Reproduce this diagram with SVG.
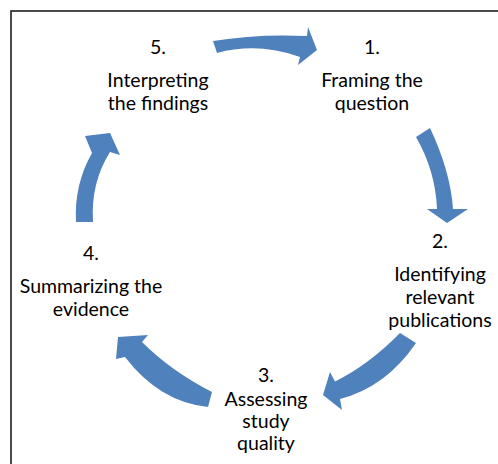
<svg xmlns="http://www.w3.org/2000/svg" width="498" height="464" viewBox="0 0 498 464">
  <style>
    .frame { fill: #ffffff; stroke: #1e1e1e; stroke-width: 1.6; }
    .arrow { fill: #4f81bd; stroke: none; }
    .label { font-family: Lato, "Open Sans", "Liberation Sans", sans-serif; font-size: 19.5px; fill: #000000; text-anchor: middle; }
  </style>
  <rect width="498" height="464" fill="#ffffff"/>
  <rect class="frame" x="11" y="11" width="520" height="480"/>

  <g id="connectors">
    <!-- 5 to 1 -->
    <path class="arrow" d="M213,41 Q258,33.5 307,36 L308,27 L317,50 L298,65 L300,57 Q258,42 217,53 Z"/>
    <!-- 1 to 2 -->
    <path class="arrow" d="M430,128 Q450.5,171.5 453,209 L468,209 L447,223 L427,209 L437,209 Q435.5,171 416,137 Z"/>
    <!-- 2 to 3 -->
    <path class="arrow" d="M416,343 Q386,387 340,399 L342,410 L323,395 L330,372 L335,381.5 Q368.5,365 400,333 Z"/>
    <!-- 3 to 4 -->
    <path class="arrow" d="M208,407 Q159.5,402 125,357 L116,359 L118,337 L148,335 L142,342 Q171,371 212,392 Z"/>
    <!-- 4 to 5 -->
    <path class="arrow" d="M76,222 Q74,184.5 92,153 L85,136 L110,133 L120,155 L110,152 Q90.5,183 93,222 Z"/>
  </g>

  <g id="step1">
    <text class="label" x="372" y="54">1.</text>
    <text class="label" x="372" y="87">Framing the</text>
    <text class="label" x="372" y="110">question</text>
  </g>
  <g id="step2">
    <text class="label" x="440" y="248">2.</text>
    <text class="label" x="440" y="281">Identifying</text>
    <text class="label" x="440" y="304">relevant</text>
    <text class="label" x="440" y="327">publications</text>
  </g>
  <g id="step3">
    <text class="label" x="266" y="382">3.</text>
    <text class="label" x="266" y="406">Assessing</text>
    <text class="label" x="266" y="428">study</text>
    <text class="label" x="266" y="450">quality</text>
  </g>
  <g id="step4">
    <text class="label" x="91" y="260">4.</text>
    <text class="label" x="91" y="293">Summarizing the</text>
    <text class="label" x="91" y="316">evidence</text>
  </g>
  <g id="step5">
    <text class="label" x="158" y="54">5.</text>
    <text class="label" x="158" y="87">Interpreting</text>
    <text class="label" x="158" y="110">the findings</text>
  </g>
</svg>
